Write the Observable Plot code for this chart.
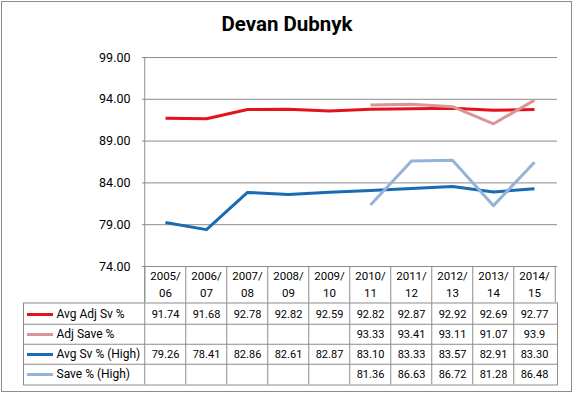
<!DOCTYPE html>
<html>
<head>
<meta charset="utf-8">
<script src="https://cdn.jsdelivr.net/npm/d3@7"></script>
<script src="https://cdn.jsdelivr.net/npm/@observablehq/plot@0.6"></script>
<style>
  html, body { margin: 0; padding: 0; background: #fff; }
  #chart { position: relative; width: 574px; height: 394px; overflow: hidden; font-family: Roboto, "Noto Sans", sans-serif; }
  #border { position: absolute; left: 1px; top: 1px; width: 569px; height: 389px; border: 1px solid #8c8c8c; }
  #title { position: absolute; left: 0; top: 12px; width: 574px; text-align: center; font: bold 20.5px Roboto, sans-serif; color: #000; }
  #p1 { position: absolute; left: 0; top: 40px; }
  #p2 { position: absolute; left: 0; top: 302px; }
  svg { overflow: visible; background: transparent !important; }
</style>
</head>
<body>
<div id="chart">
  <div id="border"></div>
  <div id="title">Devan Dubnyk</div>
  <div id="p1"></div>
  <div id="p2"></div>
</div>
<script>
const seasons = ["2005/06","2006/07","2007/08","2008/09","2009/10","2010/11","2011/12","2012/13","2013/14","2014/15"];
const seriesNames = ["Avg Adj Sv %", "Adj Save %", "Avg Sv % (High)", "Save % (High)"];
const seriesColors = ["#E5121B", "#D99694", "#1A6BB3", "#95B3D7"];
const avgAdjSv = [91.74, 91.68, 92.78, 92.82, 92.59, 92.82, 92.87, 92.92, 92.69, 92.77];
const adjSave  = [null, null, null, null, null, 93.33, 93.41, 93.11, 91.07, 93.9];
const avgSv    = [79.26, 78.41, 82.86, 82.61, 82.87, 83.10, 83.33, 83.57, 82.91, 83.30];
const saveHigh = [null, null, null, null, null, 81.36, 86.63, 86.72, 81.28, 86.48];
const yTicks = [74, 79, 84, 89, 94, 99];
const decimals = [2, null, 2, 2];

const seriesValues = [avgAdjSv, adjSave, avgSv, saveHigh];
const rows = [];
seriesValues.forEach((vals, si) => {
  vals.forEach((v, i) => {
    if (v != null) rows.push({series: seriesNames[si], season: seasons[i], value: v,
      label: decimals[si] != null ? v.toFixed(decimals[si]) : String(v)});
  });
});
const headerLabel = s => s.replace("/", "/\n");

const W = 574, ML = 142, MR = 17;
const step = (W - ML - MR) / seasons.length;
const grid = "#8c8c8c";

// Plot 1: line chart + header row
const p1 = Plot.plot({
  width: W, height: 262,
  marginLeft: ML, marginRight: MR, marginTop: 17, marginBottom: 36,
  style: {fontFamily: "Roboto, sans-serif", fontSize: "12.5px", color: "#000", background: "transparent"},
  x: {type: "point", domain: seasons, padding: 0.5, axis: null},
  y: {domain: [74, 99], ticks: yTicks, tickFormat: d => d.toFixed(2), tickSize: 0, tickPadding: 12, label: null},
  color: {domain: seriesNames, range: seriesColors},
  marks: [
    Plot.ruleY(yTicks, {stroke: grid, strokeWidth: 1}),
    Plot.ruleX([seasons[0]], {dx: -step / 2, stroke: grid, insetBottom: -36}),
    Plot.ruleX(seasons, {dx: -step / 2, stroke: grid, insetTop: 209, insetBottom: -36}),
    Plot.ruleX([seasons[seasons.length - 1]], {dx: step / 2, stroke: grid, insetTop: 209, insetBottom: -36}),
    Plot.text(seasons, {x: d => d, text: headerLabel, frameAnchor: "bottom", lineAnchor: "top", dy: 2, lineHeight: 1.45, fontSize: 11.5, fill: "#000"}),
    Plot.line(rows, {x: "season", y: "value", z: "series", stroke: "series", strokeWidth: 3, strokeLinejoin: "round", strokeLinecap: "butt"})
  ]
});
document.getElementById("p1").appendChild(p1);

// Plot 2: data table rows
const p2 = Plot.plot({
  width: W, height: 90,
  marginLeft: ML, marginRight: MR, marginTop: 0.5, marginBottom: 7.5,
  style: {fontFamily: "Roboto, sans-serif", fontSize: "11px", color: "#000", background: "transparent"},
  x: {type: "point", domain: seasons, padding: 0.5, axis: null},
  y: {type: "point", domain: seriesNames, padding: 0.5, axis: null},
  color: {domain: seriesNames, range: seriesColors},
  marks: [
    Plot.frame({stroke: grid, insetLeft: -(ML - 23)}),
    Plot.ruleY(seriesNames.slice(1), {y: d => d, dy: -10.25, stroke: grid, insetLeft: -(ML - 23)}),
    Plot.ruleX(seasons, {x: d => d, dx: -step / 2, stroke: grid}),
    Plot.ruleY(seriesNames, {y: d => d, stroke: d => d, strokeWidth: 3, insetLeft: -(ML - 27), insetRight: (W - MR - 53)}),
    Plot.text(seriesNames, {y: d => d, text: d => d, frameAnchor: "left", dx: -(ML - 56), textAnchor: "start", fontSize: 12, fill: "#000"}),
    Plot.text(rows, {x: "season", y: "series", text: "label", fill: "#000"})
  ]
});
document.getElementById("p2").appendChild(p2);
</script>
</body>
</html>
